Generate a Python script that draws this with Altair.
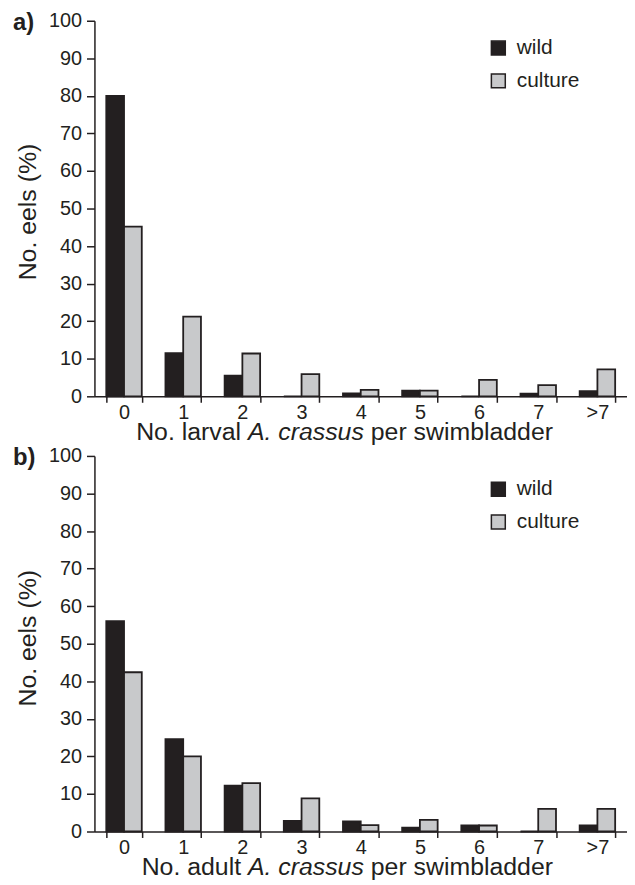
import altair as alt
import pandas as pd

categories = ["0", "1", "2", "3", "4", "5", "6", "7", ">7"]
groups = ["wild", "culture"]
larval_wild = [80, 11.5, 5.5, 0, 0.8, 1.5, 0, 0.7, 1.4]
larval_culture = [45.2, 21.2, 11.4, 5.9, 1.7, 1.5, 4.4, 3.0, 7.2]
adult_wild = [56, 24.6, 12.2, 2.8, 2.7, 1.0, 1.6, 0, 1.6]
adult_culture = [42.4, 20.0, 12.9, 8.8, 1.7, 3.1, 1.6, 6.0, 6.0]
y_ticks = list(range(0, 101, 10))
colors = ["#231f20", "#c8c9cb"]

FONT = "Liberation Sans"
INK = "#231f20"
W, H = 536, 378
TFS = 25  # title font size
LFS = 20  # tick label font size


def frame(wild, culture):
    rows = []
    for c, w, cu in zip(categories, wild, culture):
        rows.append({"cat": c, "group": "wild", "pct": w})
        rows.append({"cat": c, "group": "culture", "pct": cu})
    return pd.DataFrame(rows)


def text_layer(txt, x, y, size=TFS, align="left", style="normal", weight="normal",
               baseline="alphabetic"):
    return alt.Chart(pd.DataFrame({"t": [txt]})).mark_text(
        align=align, baseline=baseline, font=FONT, fontSize=size,
        fontStyle=style, fontWeight=weight, color=INK
    ).encode(text="t:N", x=alt.value(x), y=alt.value(y))


def panel(wild, culture, label, stage, title_y, legend_y, title_gap):
    df = frame(wild, culture)
    bars = alt.Chart(df).mark_bar(stroke=INK, strokeWidth=1.8).encode(
        x=alt.X("cat:N", sort=categories,
                scale=alt.Scale(paddingInner=0.4, paddingOuter=0.2),
                axis=alt.Axis(title=None, labelAngle=0, tickBand="extent",
                              tickSize=6, labelPadding=0, labelFontSize=LFS)),
        xOffset=alt.XOffset("group:N", sort=groups,
                            scale=alt.Scale(domain=groups, paddingInner=0, paddingOuter=0)),
        y=alt.Y("pct:Q", scale=alt.Scale(domain=[0, 100], nice=False),
                axis=alt.Axis(values=y_ticks, title="No. eels (%)", titleX=-67,
                              titleY=title_y, titleAngle=270, titleAlign="center",
                              titleBaseline="middle", titleFontSize=TFS,
                              titleFontWeight="normal", tickSize=8, labelPadding=5,
                              labelFontSize=LFS)),
        color=alt.Color("group:N", sort=groups,
                        scale=alt.Scale(domain=groups, range=colors),
                        legend=alt.Legend(orient="none", legendX=396, legendY=legend_y,
                                          title=None, symbolType="square",
                                          symbolSize=196, symbolStrokeColor=INK,
                                          symbolStrokeWidth=1.5, labelFontSize=21,
                                          labelFont=FONT, labelColor=INK,
                                          rowPadding=11, labelOffset=8, padding=0)),
    )
    sp = 0.278 * TFS
    w_italic = 4.668 * TFS
    x1 = 154.5
    ty = H + title_gap
    parts = [
        text_layer(stage, x1 - sp, ty, align="right"),
        text_layer("A. crassus", x1, ty, style="italic"),
        text_layer("per swimbladder", x1 + w_italic + sp, ty),
        text_layer(label, -82, -9.5, size=24, weight="bold", baseline="top"),
    ]
    return alt.layer(bars, *parts).properties(width=W, height=H)


top = panel(larval_wild, larval_culture, "a)", "No. larval", 192, 17, 44)
bottom = panel(adult_wild, adult_culture, "b)", "No. adult", 183, 23, 44)

chart = alt.vconcat(top, bottom, spacing=60, bounds="flush").resolve_scale(
    color="independent").resolve_legend(color="independent").properties(
    padding={"left": 5, "top": 0, "right": 0, "bottom": 0}
).configure_axis(
    domainColor=INK, tickColor=INK, labelColor=INK, titleColor=INK,
    labelFont=FONT, titleFont=FONT, domainWidth=1.5, tickWidth=1.5, grid=False
).configure_view(strokeWidth=0)

chart.save("out.html", embed_options={"renderer": "svg", "actions": False})
